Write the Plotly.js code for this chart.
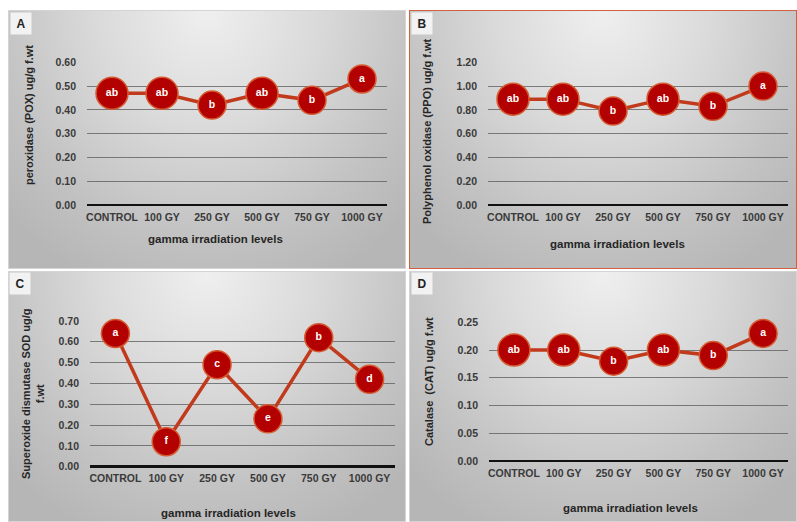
<!DOCTYPE html>
<html>
<head>
<meta charset="utf-8">
<script src="https://cdn.plot.ly/plotly-3.0.1.min.js"></script>
<style>
  html, body { margin:0; padding:0; background:#ffffff; }
  #wrap { position:relative; width:797px; height:522px; overflow:hidden; background:#ffffff; }
  .panel { position:absolute; box-sizing:border-box;
    background: radial-gradient(ellipse 70% 115% at 50% 0%, #efefef 0%, #dadada 40%, #c3c3c3 75%, #b6b6b6 100%);
    border:1px solid #d4d4d4; }
  #chart { position:absolute; left:0; top:0; width:797px; height:522px; }
</style>
</head>
<body>
<div id="wrap">
  <div class="panel" style="left:8px; top:10px; width:398px; height:259px;"></div>
  <div class="panel" style="left:409px; top:10px; width:388px; height:259px; border:1.5px solid #d0603e;"></div>
  <div class="panel" style="left:8px; top:271px; width:398px; height:251px;"></div>
  <div class="panel" style="left:409px; top:271px; width:388px; height:251px;"></div>
  <div id="chart"></div>
</div>
<script>
// ---- data ----
const categories = ['CONTROL', '100 GY', '250 GY', '500 GY', '750 GY', '1000 GY'];

const poxValues  = [0.47, 0.47, 0.42, 0.47, 0.44, 0.53];
const poxLetters = ['ab', 'ab', 'b', 'ab', 'b', 'a'];

const ppoValues  = [0.89, 0.89, 0.79, 0.89, 0.83, 1.00];
const ppoLetters = ['ab', 'ab', 'b', 'ab', 'b', 'a'];

const sodValues  = [0.64, 0.12, 0.49, 0.23, 0.62, 0.42];
const sodLetters = ['a', 'f', 'c', 'e', 'b', 'd'];

const catValues  = [0.20, 0.20, 0.18, 0.20, 0.19, 0.23];
const catLetters = ['ab', 'ab', 'b', 'ab', 'b', 'a'];

const panelLabels = ['A', 'B', 'C', 'D'];
const yTitles = [
  'peroxidase (POX) ug/g f.wt',
  'Polyphenol oxidase (PPO) ug/g f.wt',
  'Superoxide dismutase SOD ug/g<br>f.wt',
  'Catalase  (CAT) ug/g f.wt'
];
const xTitle = 'gamma irradiation levels';

// ---- build ----
const W = 797, H = 522;
const px = v => v / W;
const py = v => 1 - v / H;

const series = [
  {vals: poxValues, lets: poxLetters, xa: 'x',  ya: 'y'},
  {vals: ppoValues, lets: ppoLetters, xa: 'x2', ya: 'y2'},
  {vals: sodValues, lets: sodLetters, xa: 'x3', ya: 'y3'},
  {vals: catValues, lets: catLetters, xa: 'x4', ya: 'y4'}
];

const traces = [];
series.forEach(s => {
  traces.push({
    type: 'scatter', mode: 'lines', x: categories, y: s.vals,
    xaxis: s.xa, yaxis: s.ya, cliponaxis: false,
    line: {color: '#c23a1c', width: 3.5},
    opacity: 1, hoverinfo: 'skip', showlegend: false
  });
  traces.push({
    type: 'scatter', mode: 'markers+text', x: categories, y: s.vals,
    text: s.lets, textposition: 'middle center',
    textfont: {family: 'Liberation Sans, Arial, sans-serif', size: 10.5, color: '#ffffff', weight: 'bold'},
    xaxis: s.xa, yaxis: s.ya, cliponaxis: false, opacity: 1,
    marker: {
      color: '#b30000', opacity: 1,
      size: s.lets.map(l => l.length > 1 ? 32 : 28),
      line: {color: '#d65a30', width: 1.5}
    },
    hoverinfo: 'skip', showlegend: false
  });
});

const tickFont = {family: 'Liberation Sans, Arial, sans-serif', size: 10.5, color: '#3a3a3a', weight: 'bold'};

function xax(d0, d1, anchor) {
  return {
    domain: [px(d0), px(d1)], anchor: anchor, type: 'category',
    range: [-0.5, 5.5], showgrid: false, zeroline: false, showline: false,
    ticks: '', tickfont: tickFont, ticklabelstandoff: 4, fixedrange: true
  };
}
function yax(b, t, anchor, max, dt) {
  return {
    domain: [py(b), py(t)], anchor: anchor, range: [0, max], dtick: dt, tick0: 0,
    tickformat: '.2f', showgrid: true, gridcolor: 'rgba(90,90,90,0.75)', gridwidth: 1,
    zeroline: true, zerolinecolor: '#111111', zerolinewidth: 2.5, showline: false,
    ticks: '', tickfont: tickFont, ticklabelstandoff: 10, fixedrange: true
  };
}

const titleFont = {family: 'Liberation Sans, Arial, sans-serif', size: 11, color: '#262626', weight: 'bold'};
const xTitleFont = {family: 'Liberation Sans, Arial, sans-serif', size: 11.5, color: '#262626', weight: 'bold'};

const annotations = [];
const yTitlePos = [[29, 115], [427, 131], [33, 394], [429, 381]];
yTitlePos.forEach((p, i) => annotations.push({
  xref: 'paper', yref: 'paper', x: px(p[0]), y: py(p[1]), text: yTitles[i],
  textangle: -90, showarrow: false, xanchor: 'center', yanchor: 'middle',
  font: titleFont
}));
const xTitlePos = [[215, 239], [617, 244], [228, 513], [630, 508]];
xTitlePos.forEach(p => annotations.push({
  xref: 'paper', yref: 'paper', x: px(p[0]), y: py(p[1]), text: xTitle,
  showarrow: false, xanchor: 'center', yanchor: 'middle', font: xTitleFont
}));
const labelPos = [[21, 23], [422, 23], [20, 283], [422, 283]];
labelPos.forEach((p, i) => annotations.push({
  xref: 'paper', yref: 'paper', x: px(p[0]), y: py(p[1]), text: panelLabels[i],
  showarrow: false, xanchor: 'center', yanchor: 'middle',
  bgcolor: '#f2f2f2', borderpad: 3, width: 14, height: 15,
  font: {family: 'Liberation Sans, Arial, sans-serif', size: 12, color: '#222222', weight: 'bold'}
}));

const layout = {
  width: W, height: H,
  margin: {l: 0, r: 0, t: 0, b: 0},
  paper_bgcolor: 'rgba(0,0,0,0)',
  plot_bgcolor: 'rgba(0,0,0,0)',
  xaxis:  xax(87, 387, 'y'),
  yaxis:  yax(205, 62.3, 'x', 0.6, 0.1),
  xaxis2: xax(488, 788, 'y2'),
  yaxis2: yax(205, 62.3, 'x2', 1.2, 0.2),
  xaxis3: xax(90, 395, 'y3'),
  yaxis3: yax(466.7, 321, 'x3', 0.7, 0.1),
  xaxis4: xax(489, 788, 'y4'),
  yaxis4: yax(461, 322.3, 'x4', 0.25, 0.05),
  annotations: annotations
};

Plotly.newPlot('chart', traces, layout, {displayModeBar: false, staticPlot: true});
</script>
</body>
</html>
